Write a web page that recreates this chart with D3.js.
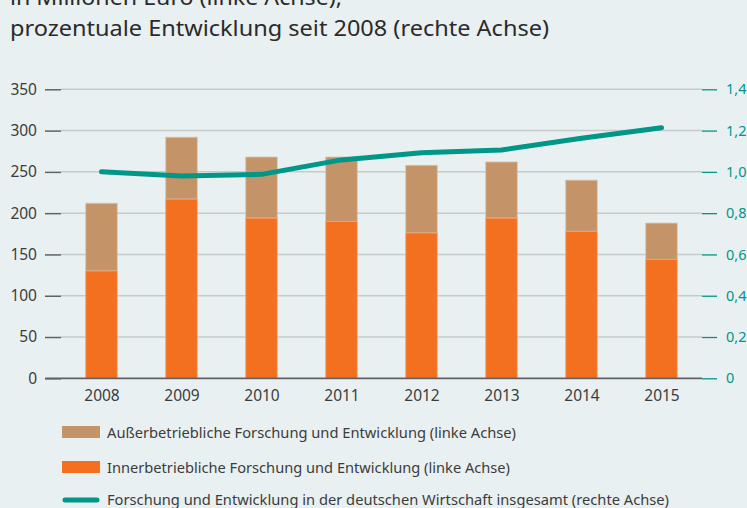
<!DOCTYPE html>
<html><head><meta charset="utf-8">
<script src="https://cdn.jsdelivr.net/npm/d3@7"></script>
<style>
html,body{margin:0;padding:0;background:#e8f0f1;}
svg{display:block;}
text{font-family:"Noto Sans",sans-serif;}
</style></head>
<body>
<svg id="c" width="747" height="508"></svg>
<script>
const years = ["2008","2009","2010","2011","2012","2013","2014","2015"];
const inner = [130, 217, 194, 190, 176, 194, 178, 144];
const outer = [82, 75, 74, 78, 82, 68, 62, 44];
const total = [1.00, 0.98, 0.988, 1.058, 1.093, 1.106, 1.163, 1.214];
const leftTicks = [0,50,100,150,200,250,300,350];
const rightTicks = [0,0.2,0.4,0.6,0.8,1.0,1.2,1.4];
const titleLines = ["in Millionen Euro (linke Achse),", "prozentuale Entwicklung seit 2008 (rechte Achse)"];
const titleWidths = [332, 539];
const legendLabels = ["Außerbetriebliche Forschung und Entwicklung (linke Achse)",
  "Innerbetriebliche Forschung und Entwicklung (linke Achse)",
  "Forschung und Entwicklung in der deutschen Wirtschaft insgesamt (rechte Achse)"];
const legendWidths = [409, 403, 562];

const C = {bg:"#e8f0f1", outer:"#c49468", inner:"#f37021", teal:"#009688", grid:"#c7cacc", axis:"#5f6366", text:"#3c3c3c"};

const svg = d3.select("#c");
svg.append("rect").attr("width",747).attr("height",508).attr("fill",C.bg);

const x = d3.scalePoint().domain(years).range([61.5, 701.5]).padding(0.5);
const yL = d3.scaleLinear().domain([0,350]).range([378.3, 89.3]);
const yR = d3.scaleLinear().domain([0,1.4]).range([378.3, 89.3]);
const bw = 31.5;
const gridX0 = 61, gridX1 = 702;
const numSize = 15.5;

// title
svg.selectAll("text.title").data(titleLines).join("text")
  .attr("class","title")
  .attr("x",10).attr("y",(d,i)=>5+i*31)
  .attr("font-size",21.5).attr("fill","#2b2b2b")
  .attr("textLength",(d,i)=>titleWidths[i]).attr("lengthAdjust","spacingAndGlyphs")
  .text(d=>d);

// gridlines
svg.append("g").selectAll("line").data(leftTicks.slice(1)).join("line")
  .attr("x1",gridX0).attr("x2",gridX1)
  .attr("y1",d=>yL(d)).attr("y2",d=>yL(d))
  .attr("stroke",C.grid).attr("stroke-width",1.5);

// left axis
const gl = svg.append("g").attr("transform",`translate(${gridX0},0)`)
  .call(d3.axisLeft(yL).tickValues(leftTicks).tickSize(16).tickPadding(8));
gl.select(".domain").remove();
gl.selectAll(".tick line").attr("stroke",C.axis).attr("stroke-width",1.5);
gl.selectAll(".tick text").attr("font-size",numSize).attr("fill",C.text).attr("font-family","Noto Sans");

// right axis
const gr = svg.append("g").attr("transform",`translate(${gridX1},0)`)
  .call(d3.axisRight(yR).tickValues(rightTicks).tickSize(15).tickPadding(9)
    .tickFormat(d=> d===0 ? "0" : d3.format(".1f")(d).replace(".",",")));
gr.select(".domain").remove();
gr.selectAll(".tick line").attr("stroke",C.teal).attr("stroke-width",1.3);
gr.selectAll(".tick text").attr("font-size",14.5).attr("fill",C.teal).attr("font-family","Noto Sans");

// bars
const bars = svg.append("g");
bars.selectAll("rect.o").data(years).join("rect")
  .attr("x",d=>x(d)-bw/2).attr("width",bw)
  .attr("y",(d,i)=>yL(inner[i]+outer[i])).attr("height",(d,i)=>yL(inner[i])-yL(inner[i]+outer[i]))
  .attr("fill",C.outer).attr("stroke","#d9c2aa").attr("stroke-width",0.8);
bars.selectAll("rect.i").data(years).join("rect")
  .attr("x",d=>x(d)-bw/2).attr("width",bw)
  .attr("y",(d,i)=>yL(inner[i])).attr("height",(d,i)=>yL(0)-yL(inner[i]))
  .attr("fill",C.inner).attr("stroke","#f2a57a").attr("stroke-width",0.8);

// baseline
svg.append("line").attr("x1",45).attr("x2",gridX1).attr("y1",yL(0)).attr("y2",yL(0))
  .attr("stroke",C.axis).attr("stroke-width",1.8);

// x axis labels
const gx = svg.append("g").attr("transform",`translate(0,${yL(0)})`)
  .call(d3.axisBottom(x).tickSize(0).tickPadding(12));
gx.select(".domain").remove();
gx.selectAll(".tick text").attr("font-size",numSize).attr("fill",C.text).attr("font-family","Noto Sans");

// line
const line = d3.line().x((d,i)=>x(years[i])).y(d=>yR(d));
svg.append("path").datum(total).attr("d",line)
  .attr("fill","none").attr("stroke",C.teal).attr("stroke-width",5)
  .attr("stroke-linecap","round").attr("stroke-linejoin","round");

// legend
const lg = svg.append("g");
const rowsY = [432, 467, 500];
lg.append("rect").attr("x",62).attr("y",rowsY[0]-6).attr("width",38).attr("height",12).attr("fill",C.outer);
lg.append("rect").attr("x",62).attr("y",rowsY[1]-6).attr("width",38).attr("height",12).attr("fill",C.inner);
lg.append("line").attr("x1",65).attr("x2",97).attr("y1",rowsY[2]).attr("y2",rowsY[2])
  .attr("stroke",C.teal).attr("stroke-width",5).attr("stroke-linecap","round");
lg.selectAll("text").data(legendLabels).join("text")
  .attr("x",107).attr("y",(d,i)=>rowsY[i]+(i===2?4.5:6))
  .attr("font-size",(d,i)=>i===2?14.5:15).attr("fill",C.text)
  .attr("textLength",(d,i)=>legendWidths[i]).attr("lengthAdjust","spacingAndGlyphs")
  .text(d=>d);
</script>
</body></html>
